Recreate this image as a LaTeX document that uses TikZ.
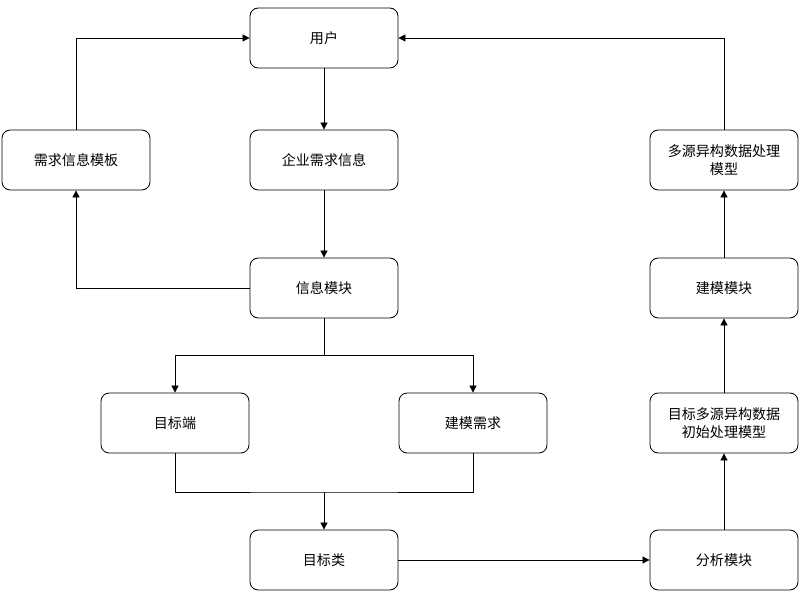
\documentclass[tikz,border=0pt]{standalone}
\usepackage{fontspec}
\newfontfamily\cjk{Noto Sans CJK SC}
\usetikzlibrary{arrows.meta}
\begin{document}
\begin{tikzpicture}[x=0.03cm,y=-0.03cm,
  box/.style={draw,rounded corners=7pt,minimum width=4.44cm,minimum height=1.8cm,align=center,font=\cjk\fontsize{12}{15}\selectfont,line width=0.7pt},
  arr/.style={-{Triangle[length=6pt,width=6pt]},line width=0.7pt},
  ln/.style={line width=0.7pt}]
\useasboundingbox (0,0) rectangle (800,600);
\node[box] (user) at (324,38) {用户};
\node[box] (tmpl) at (76,160) {需求信息模板};
\node[box] (req) at (324,160) {企业需求信息};
\node[box] (info) at (324,288) {信息模块};
\node[box] (tgt) at (175,423) {目标端};
\node[box] (mreq) at (473,423) {建模需求};
\node[box] (cls) at (324,560) {目标类};
\node[box] (ana) at (724,560) {分析模块};
\node[box] (init) at (724,423) {目标多源异构数据\\初始处理模型};
\node[box] (mod) at (724,288) {建模模块};
\node[box] (proc) at (724,160) {多源异构数据处理\\模型};
\coordinate (s1) at (324,355);
\coordinate (s2) at (324,492);
\draw[arr] (user) -- (req);
\draw[arr] (req) -- (info);
\draw[arr] (info.west) -| (tmpl.south);
\draw[arr] (tmpl.north) |- (user.west);
\draw[ln] (info.south) -- (s1);
\draw[arr] (s1) -| (tgt.north);
\draw[arr] (s1) -| (mreq.north);
\draw[ln] (tgt.south) |- (s2) -| (mreq.south);
\draw[arr] (s2) -- (cls.north);
\draw[arr] (cls) -- (ana);
\draw[arr] (ana) -- (init);
\draw[arr] (init) -- (mod);
\draw[arr] (mod) -- (proc);
\draw[arr] (proc.north) |- (user.east);
\end{tikzpicture}
\end{document}
